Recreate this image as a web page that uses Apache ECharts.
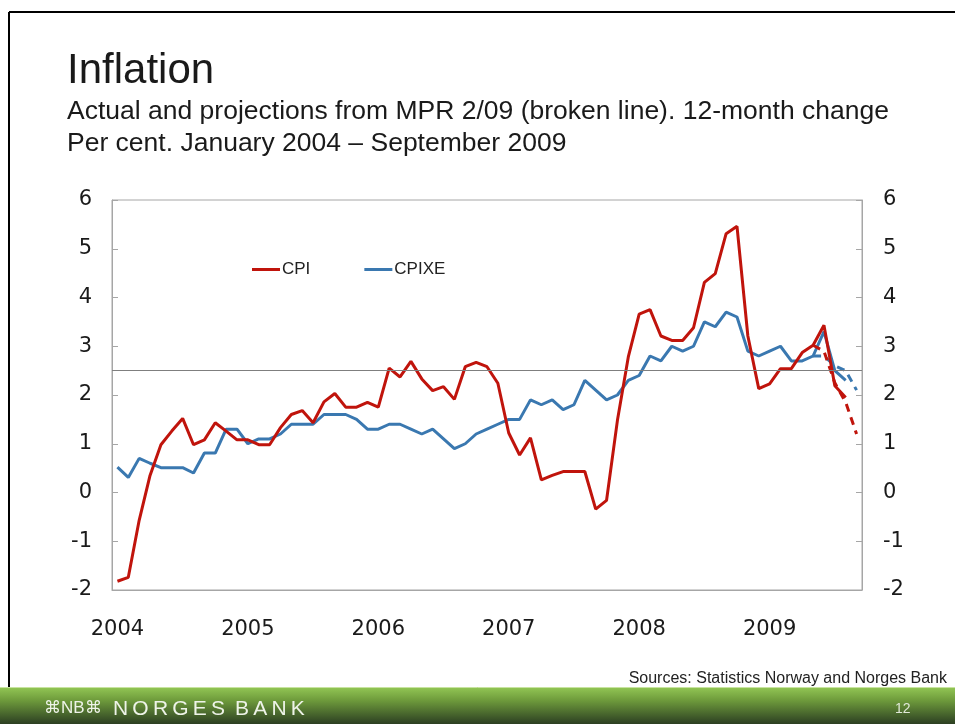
<!DOCTYPE html>
<html>
<head>
<meta charset="utf-8">
<script src="https://cdn.jsdelivr.net/npm/echarts@6/dist/echarts.min.js"></script>
<style>
  html, body { margin: 0; padding: 0; background: #fff; }
  #chart { width: 955px; height: 724px; }
</style>
</head>
<body>
<div id="chart"></div>
<script>
// months Jan 2004 - Sep 2009
const years = ['2004', '2005', '2006', '2007', '2008', '2009'];
const monthsInLastYear = 9;

// CPI, 12-month change (actual)
const cpi = [
  -1.82, -1.74, -0.57, 0.35, 0.98, 1.26, 1.52, 0.98, 1.08, 1.43, 1.26, 1.08,
  1.08, 0.98, 0.98, 1.33, 1.6, 1.68, 1.43, 1.86, 2.03, 1.75, 1.75, 1.85,
  1.75, 2.55, 2.37, 2.69, 2.33, 2.09, 2.17, 1.91, 2.58, 2.67, 2.58, 2.24,
  1.22, 0.77, 1.12, 0.26, 0.35, 0.43, 0.43, 0.43, -0.34, -0.16, 1.48, 2.78,
  3.66, 3.75, 3.21, 3.12, 3.12, 3.38, 4.31, 4.49, 5.31, 5.46, 3.21, 2.13,
  2.23, 2.54, 2.54, 2.87, 3.02, 3.43, 2.19, 1.95, null
];
// CPIXE (actual)
const cpixe = [
  0.52, 0.31, 0.7, 0.6, 0.51, 0.51, 0.51, 0.4, 0.81, 0.81, 1.3, 1.3,
  1.0, 1.1, 1.1, 1.2, 1.4, 1.4, 1.4, 1.6, 1.6, 1.6, 1.5, 1.3,
  1.3, 1.4, 1.4, 1.3, 1.2, 1.3, 1.1, 0.9, 1.0, 1.2, 1.3, 1.4,
  1.5, 1.5, 1.9, 1.8, 1.9, 1.7, 1.8, 2.3, 2.1, 1.9, 2.0, 2.3,
  2.4, 2.8, 2.7, 3.0, 2.9, 3.0, 3.5, 3.4, 3.7, 3.6, 2.9, 2.8,
  2.9, 3.0, 2.7, 2.7, 2.8, 3.3, 2.5, 2.3, null
];
// projections from MPR 2/09, May 2009 - Sep 2009
const projStart = 64;
const cpiProj = [3.02, 2.9, 2.25, 1.85, 1.2];
const cpixeProj = [2.8, 2.8, 2.6, 2.5, 2.1];

const refLine = 2.5;

const months = [];
years.forEach(function (y, i) {
  const n = i === years.length - 1 ? monthsInLastYear : 12;
  for (let m = 1; m <= n; m++) months.push(y + '-' + m);
});

function padProj(arr) {
  const out = [];
  for (let i = 0; i < months.length; i++) {
    const k = i - projStart;
    out.push(k >= 0 && k < arr.length ? arr[k] : null);
  }
  return out;
}

const red = '#c0140c';
const blue = '#3a78b0';
const axisGrey = '#a6a6a6';
const font = "'Liberation Sans', Arial, sans-serif";
const axisFont = "'DejaVu Sans', sans-serif";
const ts = '\u2009';

const myChart = echarts.init(document.getElementById('chart'));
myChart.setOption({
  animation: false,
  backgroundColor: '#fff',
  textStyle: { fontFamily: font },
  graphic: [
    { type: 'line', shape: { x1: 9, y1: 12, x2: 955, y2: 12 }, style: { stroke: '#000', lineWidth: 2 } },
    { type: 'line', shape: { x1: 9, y1: 12, x2: 9, y2: 688 }, style: { stroke: '#000', lineWidth: 2 } },
    { type: 'text', left: 67, top: 50, style: { text: 'Inflation', font: '42px ' + font, fill: '#1a1a1a' } },
    { type: 'text', left: 67, top: 98, style: { text: 'Actual and projections from MPR 2/09 (broken line). 12-month change', font: '26.5px ' + font, fill: '#1a1a1a' } },
    { type: 'text', left: 67, top: 130, style: { text: 'Per cent. January 2004 \u2013 September 2009', font: '26.5px ' + font, fill: '#1a1a1a' } },
    { type: 'text', right: 8, top: 671, style: { text: 'Sources: Statistics Norway and Norges Bank', font: '16px ' + font, fill: '#222' } },
    {
      type: 'rect', shape: { x: 0, y: 687, width: 955, height: 37 },
      style: {
        fill: new echarts.graphic.LinearGradient(0, 0, 0, 1, [
          { offset: 0, color: '#93c755' },
          { offset: 0.35, color: '#6f9c3c' },
          { offset: 1, color: '#2c3f22' }
        ])
      }
    },
    { type: 'line', shape: { x1: 0, y1: 687.5, x2: 955, y2: 687.5 }, style: { stroke: '#c8e4a0', lineWidth: 1 } },
    { type: 'text', left: 44, top: 700, style: { text: '\u2318NB\u2318', font: '17px ' + font, fill: '#eef3e8' } },
    {
      type: 'text', left: 113, top: 699,
      style: { text: ['N', 'O', 'R', 'G', 'E', 'S'].join(ts) + ' ' + ts + ['B', 'A', 'N', 'K'].join(ts), font: '21px ' + font, fill: '#eef3e8' }
    },
    { type: 'text', left: 895, top: 702, style: { text: '12', font: '14px ' + font, fill: '#e0e8d8' } }
  ],
  legend: {
    data: ['CPI', 'CPIXE'],
    icon: 'rect',
    left: 247,
    top: 256,
    itemWidth: 28,
    itemHeight: 3,
    itemGap: 54,
    textStyle: { fontSize: 17, color: '#222', padding: [0, 0, 0, -3] }
  },
  grid: {
    left: 112, right: 93, top: 200, bottom: 134,
    show: true, borderColor: axisGrey, borderWidth: 1
  },
  xAxis: {
    type: 'category',
    data: months,
    boundaryGap: true,
    axisLine: { onZero: false, lineStyle: { color: axisGrey, width: 1 } },
    axisTick: { inside: true, interval: 11, length: 7, lineStyle: { color: axisGrey } },
    axisLabel: {
      interval: 11, margin: 29, fontSize: 21, fontFamily: axisFont, color: '#1a1a1a',
      formatter: function (v) { return v.split('-')[0]; }
    },
    splitLine: { show: false }
  },
  yAxis: [
    {
      type: 'value', min: -2, max: 6, interval: 1, position: 'left',
      axisLine: { show: true, lineStyle: { color: axisGrey } },
      axisTick: { show: true, inside: true, length: 6, lineStyle: { color: axisGrey } },
      axisLabel: { fontSize: 21, fontFamily: axisFont, color: '#1a1a1a', margin: 20, padding: [6, 0, 0, 0] },
      splitLine: { show: false }
    },
    {
      type: 'value', min: -2, max: 6, interval: 1, position: 'right',
      axisLine: { show: true, lineStyle: { color: axisGrey } },
      axisTick: { show: true, inside: true, length: 6, lineStyle: { color: axisGrey } },
      axisLabel: { fontSize: 21, fontFamily: axisFont, color: '#1a1a1a', margin: 21, padding: [6, 0, 0, 0] },
      splitLine: { show: false }
    }
  ],
  series: [
    {
      name: 'CPI', type: 'line', data: cpi, symbol: 'none', z: 3,
      lineStyle: { color: red, width: 3 }, itemStyle: { color: red },
      markLine: {
        silent: true, symbol: 'none', label: { show: false },
        lineStyle: { color: '#7f7f7f', width: 1, type: 'solid' },
        data: [{ yAxis: refLine }]
      }
    },
    {
      name: 'CPIXE', type: 'line', data: cpixe, symbol: 'none', z: 2,
      lineStyle: { color: blue, width: 3 }, itemStyle: { color: blue }
    },
    {
      name: 'CPI projection', type: 'line', data: padProj(cpiProj), symbol: 'none', z: 3,
      lineStyle: { color: red, width: 3, type: [8, 6] }, itemStyle: { color: red }
    },
    {
      name: 'CPIXE projection', type: 'line', data: padProj(cpixeProj), symbol: 'none', z: 2,
      lineStyle: { color: blue, width: 3, type: [8, 6] }, itemStyle: { color: blue }
    }
  ]
});
</script>
</body>
</html>
